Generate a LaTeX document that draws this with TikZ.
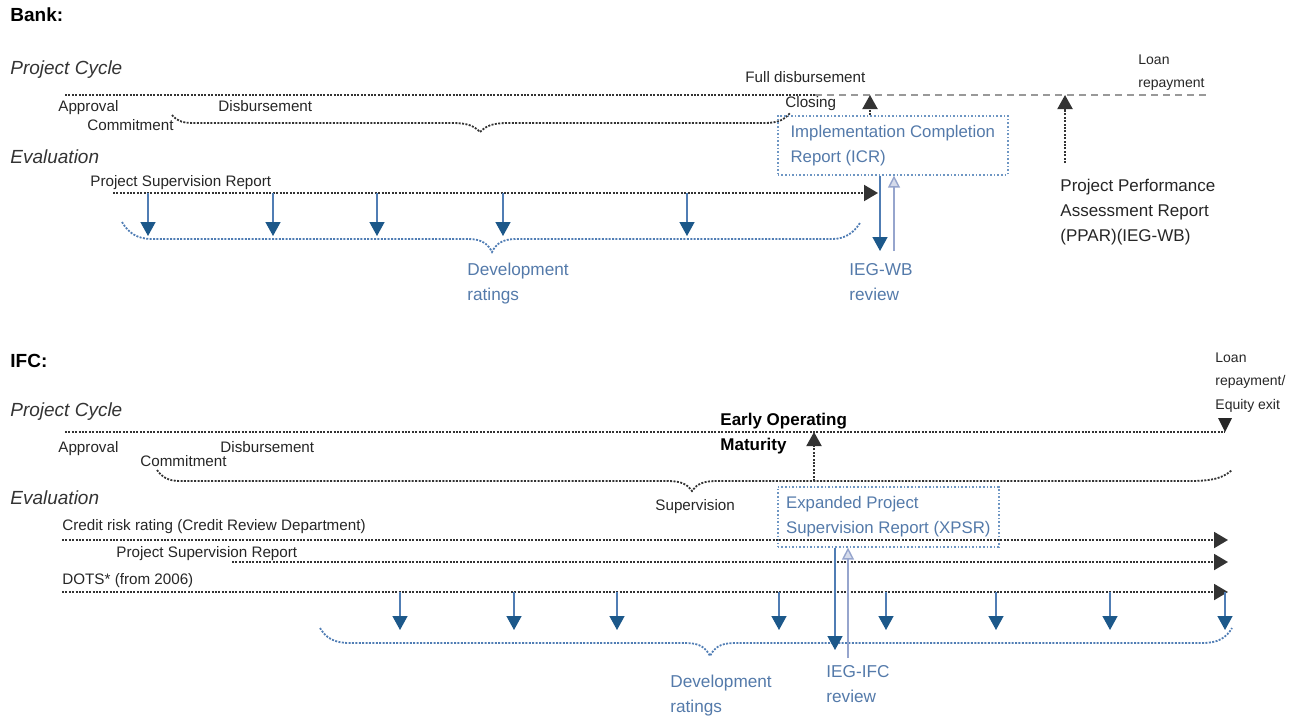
\documentclass[tikz,border=0pt]{standalone}
\usepackage{fontspec}
\setmainfont{Liberation Sans}
\usetikzlibrary{arrows.meta}

\definecolor{txtblue}{RGB}{84,122,170}
\definecolor{tipblue}{RGB}{28,88,138}
\definecolor{lineblue}{RGB}{80,125,180}
\definecolor{boxblue}{RGB}{110,150,195}
\definecolor{paleblue}{RGB}{150,165,205}

\tikzset{
  headlbl/.style={anchor=base west,inner sep=0pt,font=\fontsize{9.5}{11}\selectfont\bfseries},
  sectlbl/.style={anchor=base west,inner sep=0pt,text=black!80,font=\fontsize{9.5}{11}\selectfont\itshape},
  lbl/.style={anchor=base west,inner sep=0pt,text=black!85,font=\fontsize{7.6}{9}\selectfont},
  smalllbl/.style={anchor=north west,inner sep=0pt,align=left,text=black!85,font=\fontsize{7}{11.8}\selectfont},
  pparlbl/.style={anchor=north west,inner sep=0pt,align=left,text=black!85,font=\fontsize{8.5}{12.5}\selectfont},
  milestone/.style={anchor=north west,inner sep=0pt,align=left,font=\fontsize{8.5}{12.5}\selectfont\bfseries},
  btxt/.style={anchor=north west,inner sep=0pt,align=left,text=txtblue,font=\fontsize{8.6}{12.5}\selectfont},
  report/.style={draw=boxblue,densely dotted,line width=0.8pt,text=txtblue,align=left,anchor=north west,
    inner sep=0pt,font=\fontsize{8.4}{12.5}\selectfont},
  tline/.style={draw=black!80,line width=1pt,dash pattern=on 1pt off 0.7pt},
  tlpost/.style={draw=black!40,line width=0.7pt,dash pattern=on 3.5pt off 2.5pt},
  fwd/.style={tline,-{Triangle[width=8pt,length=7pt]}},
  uparr/.style={tline,-{Triangle[width=7.5pt,length=7pt]}},
  brc/.style={draw=black!80,line width=0.9pt,dash pattern=on 1pt off 0.7pt},
  bbrc/.style={draw=lineblue,line width=0.9pt,dash pattern=on 1pt off 0.7pt},
  ratearr/.style={draw=lineblue,line width=0.7pt,-{Triangle[width=7.5pt,length=7pt,color=tipblue]}},
  revarr/.style={draw=paleblue,line width=0.7pt,-{Triangle[width=6pt,length=6pt,fill=paleblue!40]}},
}

\begin{document}
\begin{tikzpicture}[x=0.5pt,y=-0.5pt]
\useasboundingbox (0,0) rectangle (1294,719);

% Bank
\node[headlbl] (bank) at (10,21) {Bank:};
\node[sectlbl] (bankpc) at (10,74) {Project Cycle};
\coordinate (bpcA) at (65,95);
\coordinate (bpcB) at (815,95);
\coordinate (bpcC) at (1210,95);
\draw[tline] (bpcA) -- (bpcB);
\draw[tlpost] (bpcB) -- (bpcC);
\node[lbl] (bappr) at (58,111) {Approval};
\node[lbl] (bdisb) at (218,111) {Disbursement};
\node[lbl] (bcomm) at (87,130) {Commitment};
\node[lbl] (bfull) at (745,82) {Full disbursement};
\node[lbl] (bclos) at (785,107) {Closing};
\node[smalllbl] (bloan) at (1138,54) {Loan\\repayment};
\draw[brc] (172,115) .. controls (178,122) and (184,123) .. (195,123) -- (452,123)
  .. controls (468,123) and (474,126) .. (480,132) .. controls (486,126) and (492,123) .. (508,123)
  -- (764,123) .. controls (778,123) and (784,120) .. (790,113);

\node[report,minimum width=115pt,minimum height=29.5pt] (icr) at (777,115) {Implementation Completion\\Report (ICR)};
\coordinate (bfd) at (870,95);
\draw[uparr] (icr.north -| bfd) -- (bfd);
\coordinate (bppar) at (1065,163);
\coordinate (bloanpt) at (1065,95);
\draw[uparr] (bppar) -- (bloanpt);
\node[pparlbl] (ppar) at (1060,179) {Project Performance\\Assessment Report\\(PPAR)(IEG-WB)};

\node[sectlbl] (bankev) at (10,163) {Evaluation};
\node[lbl] (bpsrlbl) at (90,186) {Project Supervision Report};
\coordinate (bpsrA) at (113,193);
\coordinate (bpsrB) at (878,193);
\draw[fwd] (bpsrA) -- (bpsrB);
\foreach \x in {148,273,377,503,687}
  \draw[ratearr] (\x,193) -- (\x,236);
\draw[bbrc] (122,222) .. controls (128,232) and (136,239) .. (152,239) -- (468,239)
  .. controls (482,239) and (488,244) .. (492,252) .. controls (496,244) and (502,239) .. (516,239)
  -- (832,239) .. controls (846,239) and (854,232) .. (860,223);
\node[btxt] (bdev) at (467,263) {Development\\ratings};

\coordinate (bieg) at (880,251);
\coordinate (biegb) at (894,251);
\draw[ratearr] (icr.south -| bieg) -- (bieg);
\draw[revarr] (biegb) -- (icr.south -| biegb);
\node[btxt] (biegtxt) at (849,263) {IEG-WB\\review};

% IFC
\node[headlbl] (ifc) at (10,367) {IFC:};
\node[sectlbl] (ifcpc) at (10,416) {Project Cycle};
\coordinate (ipcA) at (65,432);
\coordinate (ipcB) at (1225,432);
\draw[tline] (ipcA) -- (ipcB);
\fill[black!85] (1218,418) -- (1232,418) -- (ipcB) -- cycle;
\node[smalllbl] (iloan) at (1215,352) {Loan\\repayment/\\Equity exit};
\node[lbl] (iappr) at (58,452) {Approval};
\node[lbl] (idisb) at (220,452) {Disbursement};
\node[lbl] (icomm) at (140,466) {Commitment};
\draw[brc] (157,470) .. controls (162,477) and (168,481) .. (180,481) -- (668,481)
  .. controls (682,481) and (688,485) .. (692,491) .. controls (696,485) and (702,481) .. (716,481)
  -- (1190,481) .. controls (1215,481) and (1224,477) .. (1232,470);
\node[lbl] (isup) at (655,510) {Supervision};
\node[milestone] (eom) at (720,413) {Early Operating\\Maturity};
\coordinate (ieomb) at (814,481);
\coordinate (ieom) at (814,432);
\draw[uparr] (ieomb) -- (ieom);

\node[report,minimum width=110.5pt,minimum height=30pt] (xpsr) at (777,486) {Expanded Project\\Supervision Report (XPSR)};

\node[sectlbl] (ifcev) at (10,504) {Evaluation};
\node[lbl] (icrrlbl) at (62,530) {Credit risk rating (Credit Review Department)};
\coordinate (icrrA) at (62,540);
\coordinate (icrrB) at (1228,540);
\draw[fwd] (icrrA) -- (icrrB);
\node[lbl] (ipsrlbl) at (116,557) {Project Supervision Report};
\coordinate (ipsrA) at (232,562);
\coordinate (ipsrB) at (1228,562);
\draw[fwd] (ipsrA) -- (ipsrB);
\node[lbl] (idotslbl) at (62,584) {DOTS* (from 2006)};
\coordinate (idotsA) at (62,592);
\coordinate (idotsB) at (1228,592);
\draw[fwd] (idotsA) -- (idotsB);
\foreach \x in {400,514,617,779,886,996,1110,1225}
  \draw[ratearr] (\x,592) -- (\x,630);
\draw[bbrc] (320,628) .. controls (326,638) and (334,643) .. (350,643) -- (686,643)
  .. controls (700,643) and (706,648) .. (710,656) .. controls (714,648) and (720,643) .. (734,643)
  -- (1202,643) .. controls (1218,643) and (1226,638) .. (1232,628);
\node[btxt] (idev) at (670,675) {Development\\ratings};

\coordinate (iieg) at (835,650);
\coordinate (iiegb) at (848,658);
\draw[ratearr] (xpsr.south -| iieg) -- (iieg);
\draw[revarr] (iiegb) -- (xpsr.south -| iiegb);
\node[btxt] (iiegtxt) at (826,665) {IEG-IFC\\review};
\end{tikzpicture}
\end{document}
